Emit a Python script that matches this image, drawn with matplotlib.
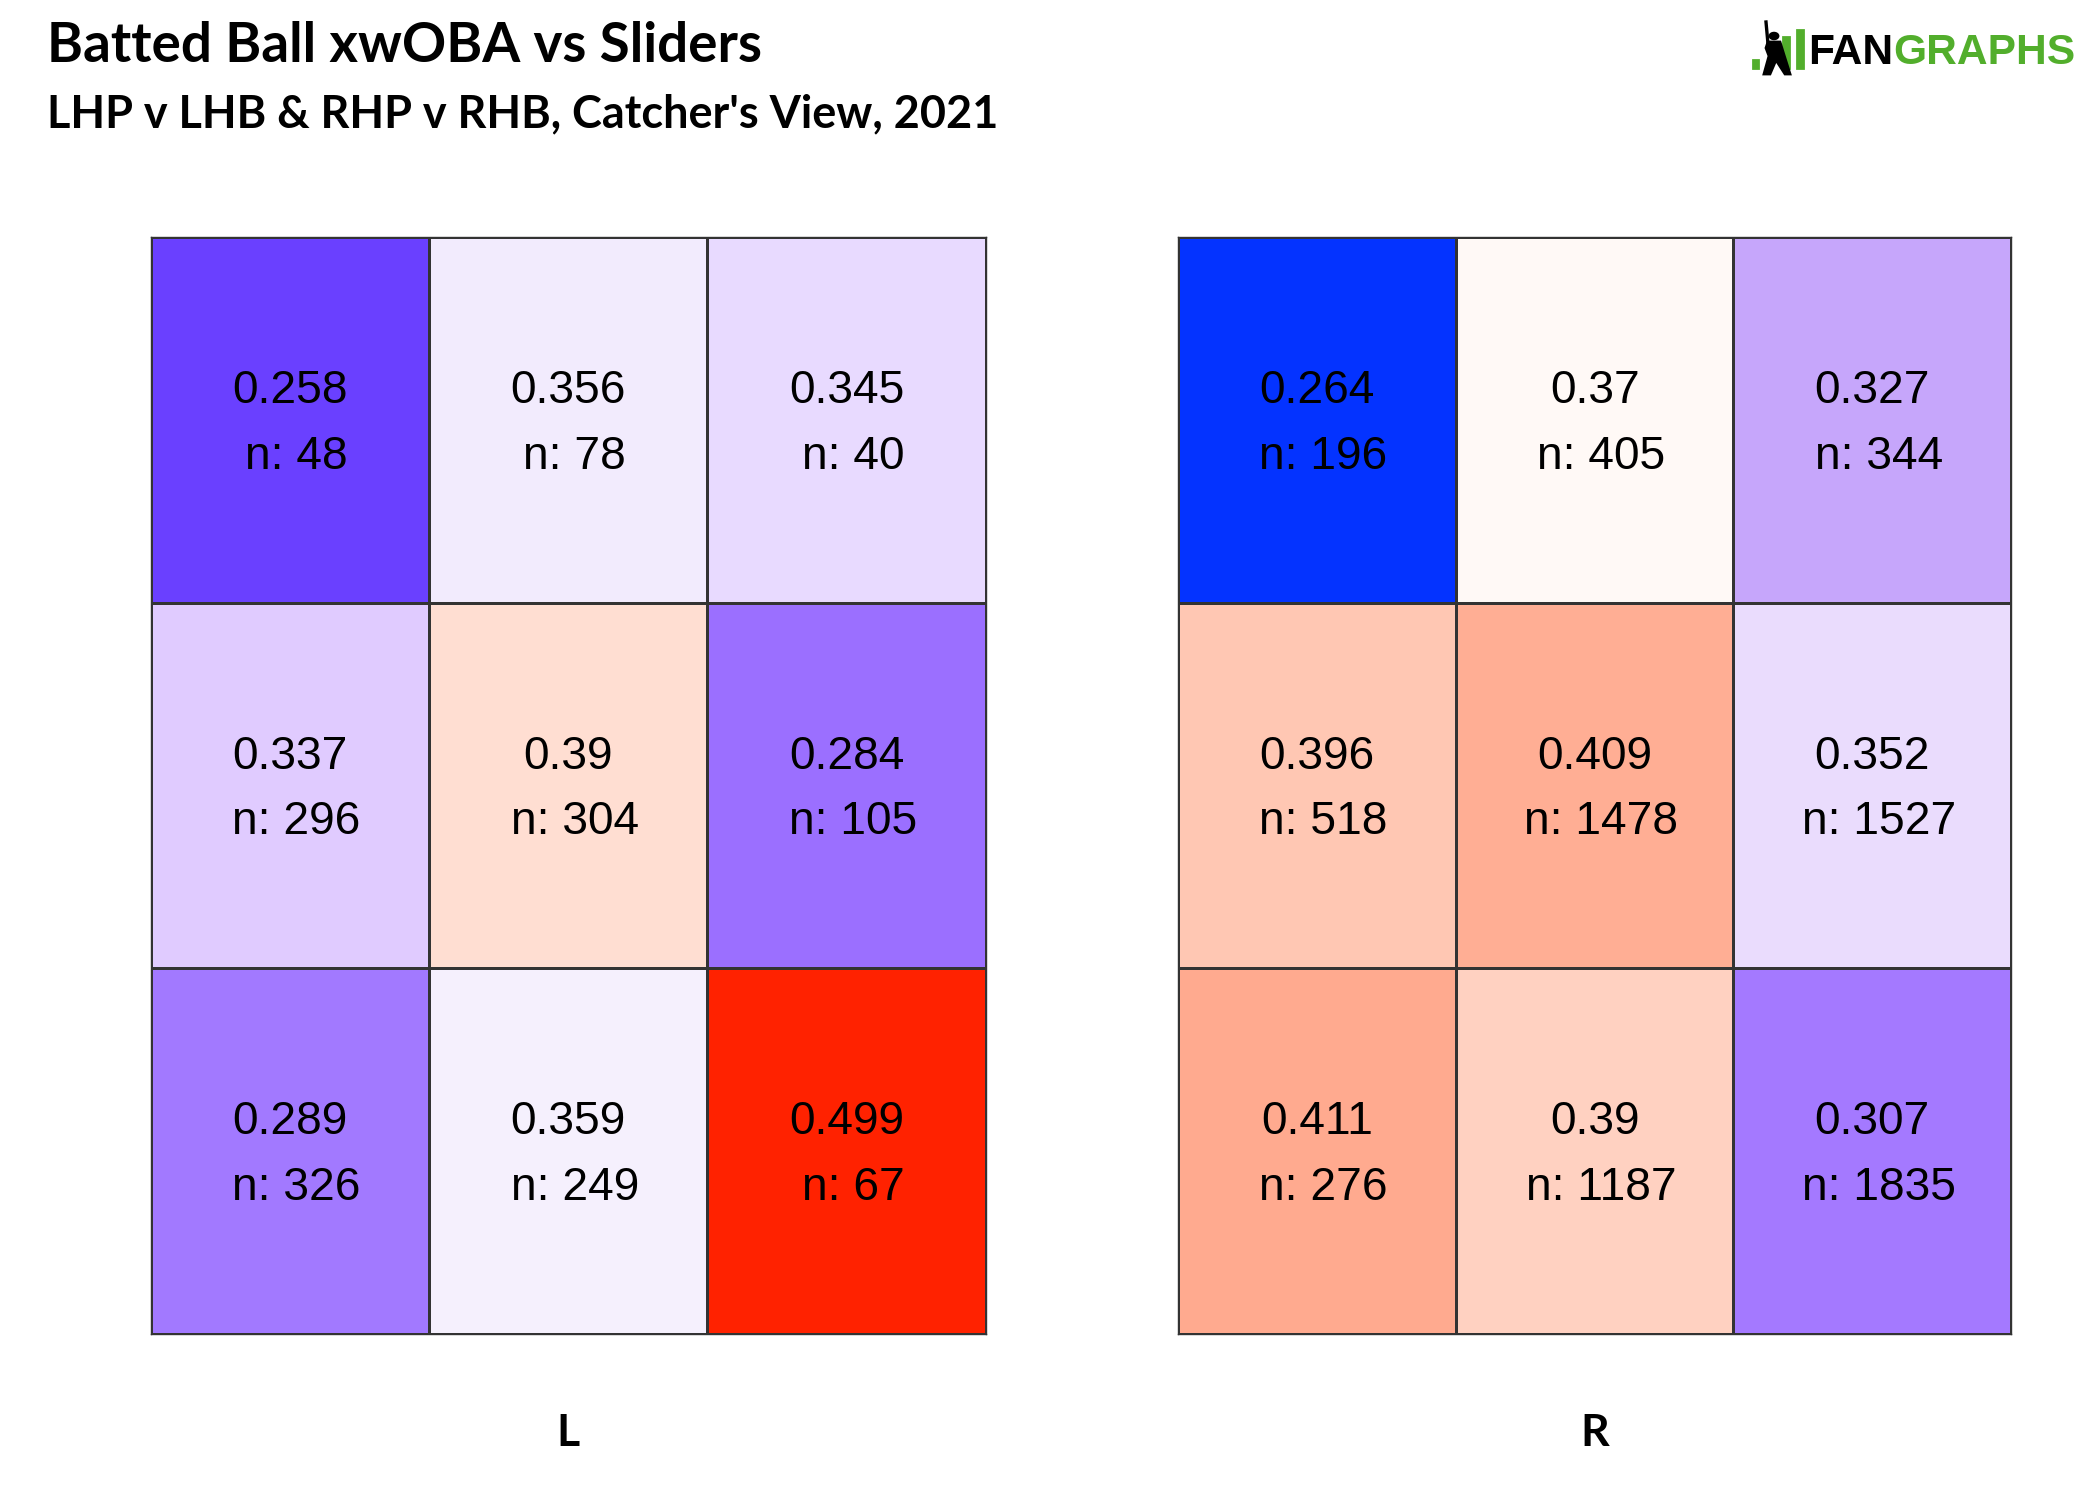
import numpy as np
import matplotlib.pyplot as plt
from matplotlib.colors import to_rgb
from matplotlib.patches import Rectangle, Circle, Polygon

# xwOBA on sliders by zone, catcher's view (top row first)
panels = ["L", "R"]
xwoba = {
    "L": [[0.258, 0.356, 0.345],
          [0.337, 0.390, 0.284],
          [0.289, 0.359, 0.499]],
    "R": [[0.264, 0.370, 0.327],
          [0.396, 0.409, 0.352],
          [0.411, 0.390, 0.307]],
}
counts = {
    "L": [[48, 78, 40],
          [296, 304, 105],
          [326, 249, 67]],
    "R": [[196, 405, 344],
          [518, 1478, 1527],
          [276, 1187, 1835]],
}

# fill colours
cell_colors = {
    "L": [["#6A40FF", "#F2EBFD", "#E8DAFF"],
          ["#E0CBFF", "#FFDED2", "#9B6FFF"],
          ["#A279FF", "#F5F0FD", "#FF2200"]],
    "R": [["#0433FF", "#FFF9F6", "#C6A6FB"],
          ["#FFC7B3", "#FFAE94", "#EADCFD"],
          ["#FFAA8F", "#FFD1C1", "#A479FF"]],
}

title = "Batted Ball xwOBA vs Sliders"
subtitle = "LHP v LHB & RHP v RHB, Catcher's View, 2021"

fig = plt.figure(figsize=(10.5, 7.5), dpi=200)
fig.patch.set_facecolor("white")

axes_pos = {"L": [0.0719, 0.1107, 0.3974, 0.7313],
            "R": [0.5610, 0.1107, 0.3967, 0.7313]}

for side in panels:
    ax = fig.add_axes(axes_pos[side])
    rgb = np.array([[to_rgb(c) for c in row] for row in cell_colors[side]])
    ax.pcolormesh(np.arange(4), np.arange(4), rgb,
                  edgecolors="#333333", linewidth=0.5)
    ax.set_xlim(0, 3)
    ax.set_ylim(3, 0)
    for r in range(3):
        for c in range(3):
            v = xwoba[side][r][c]
            n = counts[side][r][c]
            ax.text(c + 0.5, r + 0.5 - 0.046, f"{v:g}", ha="center",
                    va="baseline", fontsize=16.6, family="Liberation Sans",
                    color="black")
            ax.text(c + 0.5, r + 0.5 + 0.134, f" n: {n}", ha="center",
                    va="baseline", fontsize=16.6, family="Liberation Sans",
                    color="black")
    ax.set_xticks([])
    ax.set_yticks([])
    for s in ax.spines.values():
        s.set_edgecolor("#333333")
        s.set_linewidth(0.5)
    fig.text(axes_pos[side][0] + axes_pos[side][2] / 2, 0.036, side,
             ha="center", va="baseline", fontsize=16, fontweight="bold",
             family="Lato")

fig.text(0.0224, 0.9587, title, fontsize=19.7, fontweight="bold",
         family="Lato", va="baseline")
fig.text(0.0224, 0.9153, subtitle, fontsize=16.2, fontweight="bold",
         family="Lato", va="baseline")

# FanGraphs logo
green = "#52AE2C"
W, H = 2100, 1500
def fx(px):
    return px / W
def fy(py):
    return 1 - py / H
fig.patches.append(Rectangle((fx(1753), fy(68)), fx(5), 8 / H,
                             transform=fig.transFigure, color=green))
fig.patches.append(Rectangle((fx(1783), fy(68)), fx(6), 31 / H,
                             transform=fig.transFigure, color=green))
fig.patches.append(Rectangle((fx(1797), fy(68)), fx(6), 38 / H,
                             transform=fig.transFigure, color=green))
# batter silhouette
fig.patches.append(Circle((fx(1774), fy(36)), 4 / W,
                          transform=fig.transFigure, color="black"))
body = [(1768, 42), (1780, 42), (1784, 55), (1790, 74), (1785, 74),
        (1776, 60), (1770, 74), (1764, 74), (1769, 56), (1766, 48)]
fig.patches.append(Polygon([(fx(x), fy(y)) for x, y in body],
                           transform=fig.transFigure, color="black"))
fig.lines.append(plt.Line2D([fx(1768), fx(1766)], [fy(44), fy(22)],
                            transform=fig.transFigure, color="black", lw=1.2))
t1 = fig.text(fx(1808), fy(64), "FAN", fontsize=15.3, fontweight="bold",
              family="Liberation Sans", color="black", va="baseline")
renderer = fig.canvas.get_renderer()
bb = t1.get_window_extent(renderer=renderer)
fig.text(bb.x1 / W, fy(64), "GRAPHS", fontsize=15.3, fontweight="bold",
         family="Liberation Sans", color=green, va="baseline")

fig.savefig("out.png", dpi=200, facecolor="white")
